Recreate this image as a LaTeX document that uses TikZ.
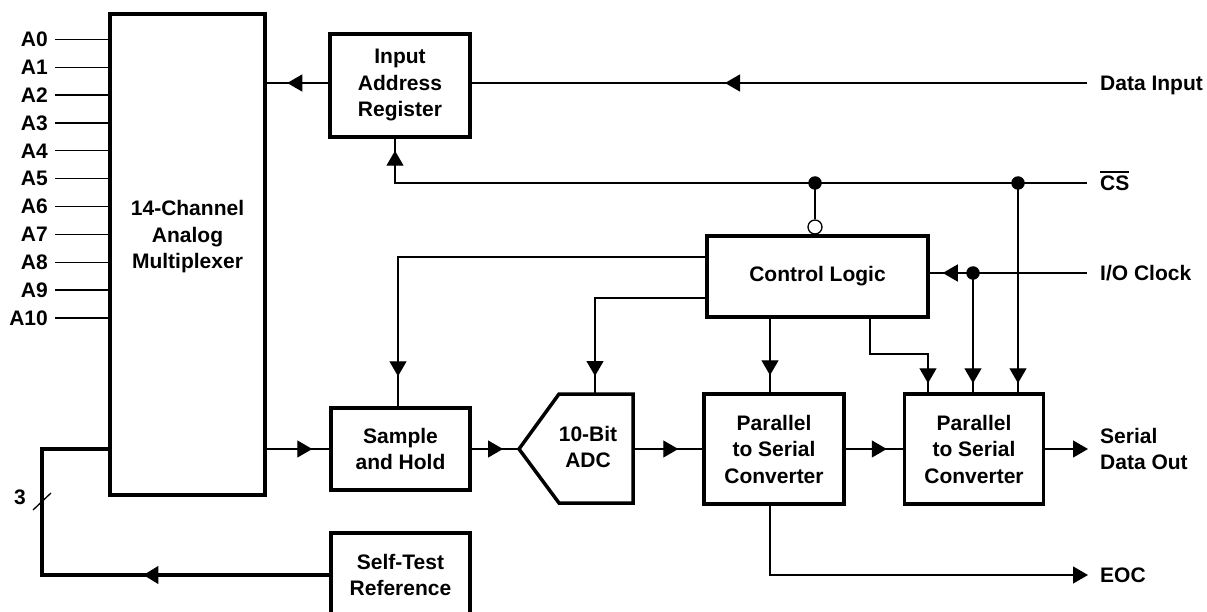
\documentclass[tikz,border=0pt]{standalone}
\usepackage{fontspec}
\setmainfont{Liberation Sans}
\usetikzlibrary{arrows.meta,decorations.markings,calc}
\begin{document}
\begin{tikzpicture}[x=1pt,y=-1pt,
  every node/.style={font=\fontsize{21}{26.5}\selectfont\bfseries, inner sep=0pt},
  wire/.style={line width=1.3pt},
  bus/.style={line width=4pt, line join=miter},
  blk/.style={draw, line width=3.5pt, align=center},
  tri/.style={postaction=decorate, decoration={markings, mark=at position #1 with {\arrow{Triangle[length=15pt,width=17pt]}}}},
  endtri/.style={-{Triangle[length=15pt,width=17pt]}},
  jdot/.style={circle, fill, minimum size=13.5pt, inner sep=0pt}
]
\useasboundingbox (0,0) rectangle (1207,612);

% blocks
\node[blk, minimum width=155pt, minimum height=481pt] (mux) at (187.5,254.5) {};
\node (muxtxt) at (187.5,237) [align=center] {14-Channel\\Analog\\Multiplexer};
\node[blk, minimum width=140pt, minimum height=103pt] (iar) at (400,85.5) {Input\\Address\\Register};
\node[blk, minimum width=221pt, minimum height=81pt] (cl) at (817.5,276.5) {Control Logic};
\node[blk, minimum width=139pt, minimum height=82pt] (sh) at (400.5,449) {Sample\\and Hold};
\node[blk, minimum width=140pt, minimum height=110pt] (ps1) at (774,449) {Parallel\\to Serial\\Converter};
\node[blk, minimum width=139pt, minimum height=110pt] (ps2) at (974,449) {Parallel\\to Serial\\Converter};
\node[blk, minimum width=139pt, minimum height=84pt] (st) at (400.5,575) {Self-Test\\Reference};

% ADC
\coordinate (adcin) at (519,449);
\coordinate (adctl) at (559,394);
\coordinate (adctr) at (633,394);
\coordinate (adcbr) at (633,503);
\coordinate (adcbl) at (559,503);
\coordinate (adctop) at (595,394);
\coordinate (adcout) at (634.75,449);
\draw[line width=3.5pt, line join=miter] (adcin) -- (adctl) -- (adctr) -- (adcbr) -- (adcbl) -- cycle;
\node[align=center] (adc) at (588,447) {10-Bit\\ADC};

% analog inputs
\foreach \i in {0,...,10} {
  \node[anchor=east] (a\i) at (48,{39.3+27.87*\i}) {A\i};
  \draw[wire] ($(a\i.east)+(7,0)$) -- (a\i.east -| mux.west);
}

% Data input
\coordinate (din) at (1087,83);
\draw[wire, tri=362pt] (din) -- (din -| iar.east);
\draw[wire, tri=41pt] (din -| iar.west) -- (din -| mux.east);
\node[anchor=base west] (dinl) at (1100,90.5) {Data Input};

% CS
\coordinate (cs) at (1087,183);
\coordinate (csiar) at (395,183);
\draw[wire, tri=-12pt] (cs) -- (csiar) -- (csiar |- iar.south);
\node[anchor=base west] (csl) at (1100,191) {\vbox{\hrule height 2.6pt\kern 3pt\hbox{CS}}};
\node[jdot] (d1) at (815,183) {};
\node[jdot] (d2) at (1018,183) {};
\node[circle, draw, line width=1.3pt, fill=white, minimum size=14pt] (bub) at (815,227) {};
\draw[wire] (d1.center) -- (bub.north);
\draw[wire, tri=-9pt] (d2.center) -- (d2.center |- ps2.north);

% I/O clock
\coordinate (clk) at (1087,273);
\draw[wire, tri=-13pt] (clk) -- (clk -| cl.east);
\node[anchor=base west] (clkl) at (1100,280.5) {I/O Clock};
\node[jdot] (d3) at (973,273) {};
\draw[wire, tri=-9pt] (d3.center) -- (d3.center |- ps2.north);

% control logic outputs
\coordinate (c1) at (870,354);
\coordinate (c2) at (928,354);
\draw[wire, tri=-9pt] (c1 |- cl.south) -- (c1) -- (c2) -- (c2 |- ps2.north);
\coordinate (c3) at (770,340);
\draw[wire, tri=-17pt] (c3 |- cl.south) -- (c3 |- ps1.north);
\coordinate (c4) at (398,257);
\draw[wire, tri=-30pt] (c4 -| cl.west) -- (c4) -- (c4 |- sh.north);
\coordinate (c5) at (595,298);
\draw[wire, tri=-18pt] (c5 -| cl.west) -- (c5) -- (adctop);

% signal chain
\draw[wire, tri=-17pt] (sh.west -| mux.east) -- (sh.west);
\draw[wire, tri=-16pt] (sh.east) -- (adcin);
\draw[wire, tri=-24pt] (adcout) -- (ps1.west);
\draw[wire, tri=-16pt] (ps1.east) -- (ps2.west);
\coordinate (sout) at (1088,449);
\draw[wire, endtri] (ps2.east) -- (sout);
\node[anchor=west, align=left] (soutl) at (1100,449) {Serial\\Data Out};

% EOC
\coordinate (eocc) at (770,575);
\coordinate (eoc) at (1088,575);
\draw[wire, endtri] (eocc |- ps1.south) -- (eocc) -- (eoc);
\node[anchor=base west] (eocl) at (1100,582.5) {EOC};

% self-test bus
\coordinate (b1) at (42,575);
\coordinate (b2) at (42,449);
\draw[bus, tri=186pt] (st.west |- b1) -- (b1) -- (b2) -- (b2 -| mux.west);
\coordinate (s1) at (33,510);
\coordinate (s2) at (51,493);
\draw[wire] (s1) -- (s2);
\node (three) at (20,497) {3};
\end{tikzpicture}
\end{document}
